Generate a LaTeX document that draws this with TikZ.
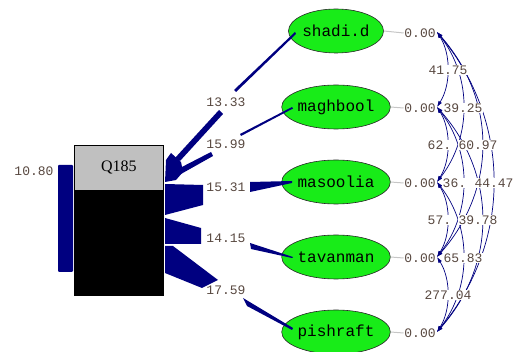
\documentclass[tikz,border=0pt]{standalone}
\usepackage{fontspec}
\setmainfont{Liberation Serif}
\newfontfamily\mono{Liberation Mono}
\usetikzlibrary{shapes.geometric,arrows.meta}
\definecolor{navy}{RGB}{0,0,128}
\definecolor{lgreen}{RGB}{24,236,24}
\definecolor{numc}{RGB}{88,72,64}
\definecolor{boxgray}{RGB}{192,192,192}
\begin{document}
\begin{tikzpicture}[x=1pt,y=-1pt,
  var/.style={ellipse,draw=black!85,line width=0.6pt,fill=lgreen,minimum width=88pt,minimum height=44pt,inner sep=0pt,font=\mono\fontsize{16}{16}\selectfont},
  num/.style={font=\mono\fontsize{13}{13}\selectfont,text=numc,inner sep=0.5pt},
  numw/.style={num,fill=white},
  corr/.style={draw=navy,line width=0.7pt,{Latex[length=6pt,width=4pt]}-{Latex[length=6pt,width=4pt]}},
  wedge/.style={fill=navy}]
\useasboundingbox (0,0) rectangle (514,352);

% observed variable box
\node[draw=black,line width=0.6pt,fill=boxgray,minimum width=89pt,minimum height=45pt,inner sep=0pt,anchor=north west,font=\fontsize{16}{16}\selectfont] (q) at (74,145) {Q185};
\node[draw=black,line width=0.6pt,fill=black,minimum width=89pt,minimum height=104pt,inner sep=0pt,anchor=north] (qb) at (q.south) {};

% error bar
\fill[navy,rounded corners=1pt] (58,165) rectangle (73,272);
\node[num] (err) at (34,171) {10.80};

% latent variables
\node[var] (v1) at (336,31) {shadi.d};
\node[var] (v2) at (336,107) {maghbool};
\node[var] (v3) at (336,182) {masoolia};
\node[var] (v4) at (336,257) {tavanman};
\node[var] (v5) at (336,332) {pishraft};

% 0.00 labels and gray stubs
\foreach \i/\y in {1/33,2/108,3/183,4/258,5/333}{
  \node[num] (e\i) at (420,\y) {0.00};
  \draw[gray!45,line width=1pt] (v\i.east) -- (e\i.west);
  \coordinate (a\i) at (437,\y-1);
}

% tapered paths (ellipse -> box)
\fill[wedge] (234,90) -- (295,32) -- (296,34) -- (236,92) -- cycle;
\fill[wedge] (219,110) -- (223,114) -- (180,161) -- (175,158) -- cycle;
\fill[wedge] (240,134) -- (292,107) -- (293,108.5) -- (241,136) -- cycle;
\fill[wedge] (211,152) -- (213,156) -- (181,174) -- (178,169) -- cycle;
\fill[wedge] (165,182) -- (166,160) -- (171,153) -- (181,162) -- (183,172) -- (176,180) -- cycle;
\fill[wedge] (250,182) -- (292,181) -- (292,183) -- (250,192) -- cycle;
\fill[wedge] (165,184) -- (203,185) -- (203,205) -- (165,215) -- cycle;
\fill[wedge] (250,243) -- (293,257) -- (292,258) -- (251,249) -- cycle;
\fill[wedge] (165,218) -- (201,228) -- (201,244) -- (165,244) -- cycle;
\fill[wedge] (243,298) -- (293,328) -- (292,330) -- (247,306) -- cycle;
\fill[wedge] (165,246) -- (173,246) -- (218,280) -- (202,288) -- (165,273) -- cycle;

\node[num] (l1) at (226,102) {13.33};
\node[num] (l2) at (226,144) {15.99};
\node[num] (l3) at (226,187) {15.31};
\node[num] (l4) at (226,238) {14.15};
\node[num] (l5) at (226,290) {17.59};

% correlated errors
\draw[corr] (a1) .. controls +(14,22) and +(14,-22) .. (a2);
\draw[corr] (a2) .. controls +(14,22) and +(14,-22) .. (a3);
\draw[corr] (a3) .. controls +(14,22) and +(14,-22) .. (a4);
\draw[corr] (a4) .. controls +(14,22) and +(14,-22) .. (a5);
\draw[corr] (a1) .. controls +(35,45) and +(35,-45) .. (a3);
\draw[corr] (a2) .. controls +(35,45) and +(35,-45) .. (a4);
\draw[corr] (a3) .. controls +(35,45) and +(35,-45) .. (a5);
\draw[corr] (a1) .. controls +(60,68) and +(60,-68) .. (a4);
\draw[corr] (a2) .. controls +(60,68) and +(60,-68) .. (a5);
\draw[corr] (a1) .. controls +(75,90) and +(75,-90) .. (a5);

\node[numw,anchor=west] (c23) at (427,145) {62.};
\node[numw,anchor=west] (c24) at (442,183) {36.};
\node[numw,anchor=west] (c34) at (427,220) {57.};
\node[numw] (c12) at (448,70) {41.75};
\node[numw] (c13) at (463,108) {39.25};
\node[numw] (c14) at (478,145) {60.97};
\node[numw] (c15) at (494,183) {44.47};
\node[numw] (c25) at (478,220) {39.78};
\node[numw] (c35) at (463,258) {65.83};
\node[numw] (c45) at (448,295) {277.04};
\end{tikzpicture}
\end{document}
